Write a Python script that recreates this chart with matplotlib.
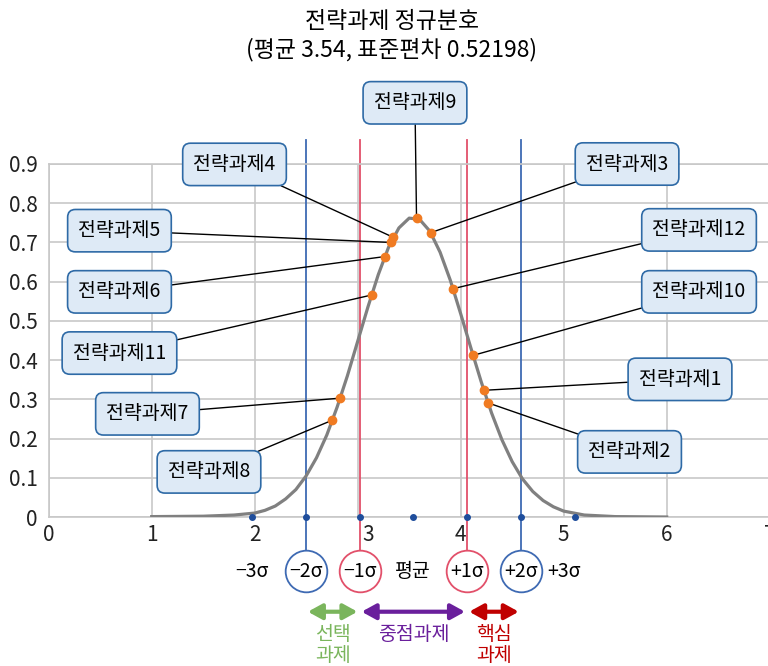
import matplotlib
matplotlib.use('Agg')
import matplotlib.pyplot as plt
from matplotlib.transforms import ScaledTranslation

plt.rcParams['font.family'] = ['Noto Sans CJK KR', 'DejaVu Sans']

# 정규분포 곡선
curve_x = [1.0, 1.5, 1.8,
           2.0, 2.1, 2.2, 2.3, 2.4, 2.5, 2.6, 2.7, 2.8, 2.9,
           3.0, 3.1, 3.2, 3.3, 3.4, 3.5, 3.6, 3.7, 3.8, 3.9,
           4.0, 4.1, 4.2, 4.3, 4.4, 4.5, 4.6, 4.7, 4.8, 4.9,
           5.0, 5.2, 5.5, 6.0]
curve_y = [0.001, 0.002, 0.005,
           0.010, 0.017, 0.028, 0.046, 0.070, 0.105, 0.151, 0.209, 0.280, 0.360,
           0.448, 0.536, 0.618, 0.688, 0.737, 0.762, 0.759, 0.729, 0.675, 0.603,
           0.518, 0.430, 0.344, 0.265, 0.197, 0.141, 0.097, 0.065, 0.042, 0.026,
           0.015, 0.005, 0.001, 0.000]

# 전략과제 점수와 확률밀도
task_names = ['전략과제1', '전략과제2', '전략과제3', '전략과제4', '전략과제5', '전략과제6',
              '전략과제7', '전략과제8', '전략과제9', '전략과제10', '전략과제11', '전략과제12']
task_x = [4.225, 4.265, 3.71, 3.346, 3.321, 3.263, 2.83, 2.755, 3.571, 4.12, 3.135, 3.925]
task_y = [0.323, 0.291, 0.725, 0.713, 0.700, 0.664, 0.303, 0.247, 0.763, 0.412, 0.566, 0.582]

mean = 3.54
sd = 0.52198

xticks = [0, 1, 2, 3, 4, 5, 6, 7]
yticks = [0, 0.1, 0.2, 0.3, 0.4, 0.5, 0.6, 0.7, 0.8, 0.9]
ytick_labels = ['0', '0.1', '0.2', '0.3', '0.4', '0.5', '0.6', '0.7', '0.8', '0.9']

# 라벨 상자 위치 (과제 순서대로)
label_pos = [(6.129, 0.351), (5.639, 0.166), (5.615, 0.900), (1.804, 0.899),
             (0.687, 0.730), (0.687, 0.574), (0.959, 0.263), (1.556, 0.115),
             (3.556, 1.056), (6.314, 0.574), (0.687, 0.418), (6.314, 0.732)]

blue = '#3e6ab3'
red = '#e2506a'
grid_c = '#c8c8c8'

fig = plt.figure(figsize=(7.68, 6.66), dpi=100)
ax = fig.add_axes([48.7 / 768, 149 / 666, 721 / 768, 353 / 666])
ax.set_xlim(0, 7)
ax.set_ylim(0, 0.9)

ax.set_xticks(xticks)
ax.set_xticklabels([str(t) for t in xticks])
ax.set_yticks(yticks)
ax.set_yticklabels(ytick_labels)
ax.tick_params(length=0, labelsize=15, colors='#222222')
ax.tick_params(axis='y', pad=8)
ax.tick_params(axis='x', pad=5)
ax.grid(True, color=grid_c, lw=1.2)
ax.set_axisbelow(True)
for sp in ax.spines.values():
    sp.set_color(grid_c)
    sp.set_linewidth(1.2)

# 눈금 3 은 빨간 선을 피해서 오른쪽으로
lab3 = ax.get_xticklabels()[3]
lab3.set_transform(lab3.get_transform() + ScaledTranslation(0.10, 0, fig.dpi_scale_trans))

# 곡선과 점
ax.plot(curve_x, curve_y, color='#808080', lw=2.3, zorder=3)
ax.plot(task_x, task_y, 'o', color='#f07b22', ms=6, zorder=6)

# 시그마 표시
ys = -0.1377
for k in [-3, -2, -1, 0, 1, 2, 3]:
    ax.plot(mean + k * sd, 0, 'o', color='#1f4e9c', ms=4, zorder=6, clip_on=False)

for k, c in [(-2, blue), (-1, red), (1, red), (2, blue)]:
    xk = mean + k * sd
    ax.plot([xk, xk], [ys, 0.961], color=c, lw=1.3, zorder=2, clip_on=False)
    ax.plot(xk, ys, 'o', ms=30, mfc='white', mec=c, mew=1.3, zorder=7, clip_on=False)
    txt = ('+' if k > 0 else '\u2212') + str(abs(k)) + 'σ'
    ax.text(xk, ys, txt, ha='center', va='center', fontsize=14, zorder=8, clip_on=False)

ax.text(mean - 3 * sd, ys, '\u22123σ', ha='center', va='center', fontsize=14, clip_on=False)
ax.annotate('+3σ', xy=(mean + 3 * sd, ys), xytext=(-11, 0), textcoords='offset pixels',
            ha='center', va='center', fontsize=14, annotation_clip=False)
ax.text(mean, ys, '평균', ha='center', va='center', fontsize=14, clip_on=False)

# 구간 화살표
ya = -0.2415
groups = [(-2, -1, '#7ab55c', '선택\n과제'), (-1, 1, '#6a1f9c', '중점과제'), (1, 2, '#c00000', '핵심\n과제')]
for k0, k1, c, name in groups:
    x0 = mean + k0 * sd
    x1 = mean + k1 * sd
    ax.annotate('', xy=(x1, ya), xytext=(x0, ya),
                arrowprops=dict(arrowstyle='<|-|>,head_length=0.6,head_width=0.33',
                                color=c, lw=3, shrinkA=1.5, shrinkB=1.5, mutation_scale=14),
                annotation_clip=False)
    ax.text((x0 + x1) / 2, -0.272, name, ha='center', va='top', color=c,
            fontsize=14, linespacing=1.05, clip_on=False)

# 라벨 상자
for name, x, y, (lx, ly) in zip(task_names, task_x, task_y, label_pos):
    ax.annotate(name, xy=(x, y), xytext=(lx, ly), ha='center', va='center', fontsize=14,
                bbox=dict(boxstyle='round,pad=0.55,rounding_size=0.4', fc='#deeaf6', ec='#2e6aa6', lw=1.2),
                arrowprops=dict(arrowstyle='-', color='black', lw=1, shrinkA=0, shrinkB=0),
                zorder=5, annotation_clip=False)

fig.text(392 / 768, 1 - 22 / 666, '전략과제 정규분호', ha='center', va='center', fontsize=16.5)
fig.text(392 / 768, 1 - 50 / 666, '(평균 3.54, 표준편차 0.52198)', ha='center', va='center', fontsize=16.5)

fig.savefig('out.png', dpi=100)
